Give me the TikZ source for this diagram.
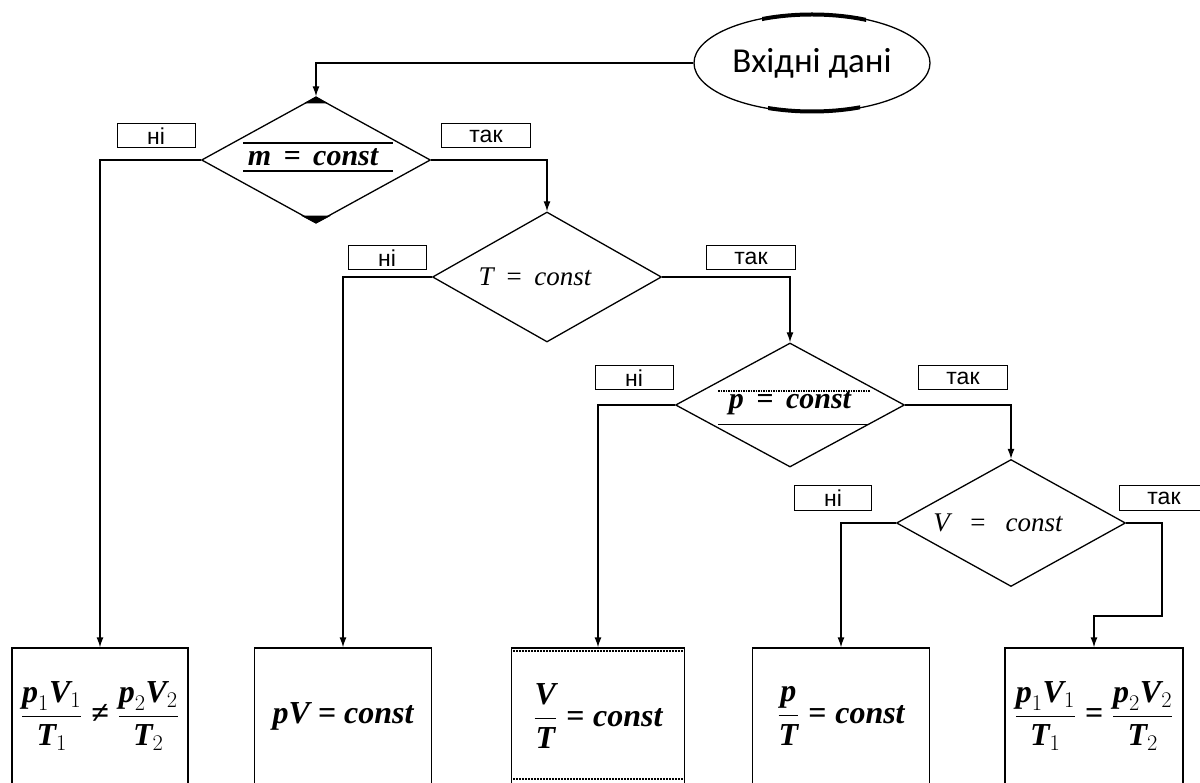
\RequirePackage{fix-cm}
\documentclass[tikz,border=0pt]{standalone}
\usepackage{fontspec}
\usepackage{tikz}
\usetikzlibrary{shapes.geometric,arrows.meta,calc}

\newfontfamily\labelfont{Liberation Sans}
\newfontfamily\startfont{Carlito}
\newfontfamily\formfont{Liberation Serif}
\newcommand{\bvar}[1]{\mbox{\formfont\bfseries\itshape #1}}
\newcommand{\brel}[1]{\mathrel{\mbox{\formfont\bfseries #1}}}

\begin{document}
\begin{tikzpicture}[x=1pt,y=-1pt,line width=1.3pt]
			\tikzstyle{start} = [ellipse, draw, inner sep=0pt, minimum width=236pt, minimum height=98pt, font=\startfont\fontsize{35}{40}\selectfont]
			\tikzstyle{cond} = [diamond, draw, inner sep=0pt, minimum width=229pt, minimum height=126pt]
			\tikzstyle{answer} = [draw, line width=1pt, inner sep=0pt, minimum width=89pt, minimum height=24pt, font=\labelfont\fontsize{23}{24}\selectfont]
			\tikzstyle{result} = [draw, inner sep=0pt, minimum width=177pt, minimum height=136pt, font=\formfont\bfseries\itshape\fontsize{32}{38}\selectfont]
			\tikzset{edge/.style = {-{Latex[length=10pt,width=7pt]}}}
			\tikzset{boldtext/.style = {font=\formfont\bfseries\itshape\fontsize{30}{34}\selectfont}}
			\tikzset{thintext/.style = {font=\formfont\itshape\fontsize{27}{30}\selectfont}}
			
			\useasboundingbox (0,0) rectangle (1200,783);
			\fill[white] (0,0) rectangle (1200,783);
			\clip (0,0) rectangle (1200,783);
			
			\node[start](input) at (812,63) {Вхідні дані};
			
			\node[cond](cond1) at (316,160) {};
			\node[cond, minimum height=130pt](cond2) at (547,277) {};
			\node[cond, minimum height=124pt](cond3) at (790,405) {};
			\node[cond, minimum height=127pt](cond4) at (1011,523) {};
			\node[boldtext](text1) at (313,157) {m\, = \,const};
			\node[thintext](text2) at (535,277) {T\, = \,const};
			\node[boldtext](text3) at (790,403) {p\, = \,const};
			\node[thintext](text4) at (998,523) {V\;\, = \;\,const};
			
			\node[answer, minimum width=78pt](no1) at (156,136) {ні};
			\node[answer](yes1) at (486,136) {так};
			\node[answer, minimum width=78pt](no2) at (387,258) {ні};
			\node[answer](yes2) at (751,258) {так};
			\node[answer, minimum width=78pt](no3) at (634,378) {ні};
			\node[answer](yes3) at (963,378) {так};
			\node[answer, minimum width=77pt](no4) at (833,498) {ні};
			\node[answer](yes4) at (1164,498) {так};
			
			\node[result, minimum width=176pt](res1) at (100,716) {$\displaystyle\frac{\bvar{p}_1\bvar{V}_1}{\bvar{T}_1}\brel{≠}\frac{\bvar{p}_2\bvar{V}_2}{\bvar{T}_2}$};
			\node[result](res2) at (343,716) {pV = const};
			\node[result, minimum width=173pt](res3) at (598,716) {$\displaystyle\frac{\bvar{V}}{\bvar{T}}\brel{=}\bvar{const}$};
			\node[result](res4) at (841,716) {$\displaystyle\frac{\bvar{p}}{\bvar{T}}\brel{=}\bvar{const}$};
			\node[result, minimum width=178pt](res5) at (1094,716) {$\displaystyle\frac{\bvar{p}_1\bvar{V}_1}{\bvar{T}_1}\brel{=}\frac{\bvar{p}_2\bvar{V}_2}{\bvar{T}_2}$};
			
			\draw[edge](input.west) -| (cond1.north);
			\draw[edge](cond1.west) -| (res1.north);
			\draw[edge](cond1.east) -| (cond2.north);
			\draw[edge](cond2.west) -| (res2.north);
			\draw[edge](cond2.east) -| (cond3.north);
			\draw[edge](cond3.west) -| (res3.north);
			\draw[edge](cond3.east) -| (cond4.north);
			\draw[edge](cond4.west) -| (res4.north);
			\coordinate (turn) at (1162,616);
			\draw[edge](cond4.east) -| (turn) -| (res5.north);
			
			% marks of the scan
			\fill (cond1.north) -- ++(-12,7) -- ++(24,0) -- cycle;
			\fill (cond1.south) -- ++(-15,-8) -- ++(30,0) -- cycle;
			\draw[line width=1.5pt] ($(cond1.center)+(-73,-17)$) -- ++(150,0);
			\draw[line width=1.5pt] ($(cond1.center)+(-73,11)$) -- ++(150,0);
			\draw[densely dotted, line width=1.5pt] ($(cond3.center)+(-72,-14)$) -- ++(152,0);
			\draw[line width=1pt] ($(cond3.center)+(-72,20)$) -- ++(150,0);
			\draw[densely dotted, line width=2pt] ($(res3.north west)+(2,4)$) -- ($(res3.north east)+(-2,4)$);
			\draw[densely dotted, line width=2pt] ($(res3.south west)+(2,-6)$) -- ($(res3.south east)+(-2,-6)$);
			\begin{scope}
				\clip (762,0) rectangle (866,24);
				\draw[line width=4pt] (input.center) ellipse [x radius=118pt, y radius=48.5pt];
			\end{scope}
			\begin{scope}
				\clip (768,100) rectangle (860,120);
				\draw[line width=4pt] (input.center) ellipse [x radius=118pt, y radius=48.5pt];
			\end{scope}
			
\end{tikzpicture}
\end{document}
